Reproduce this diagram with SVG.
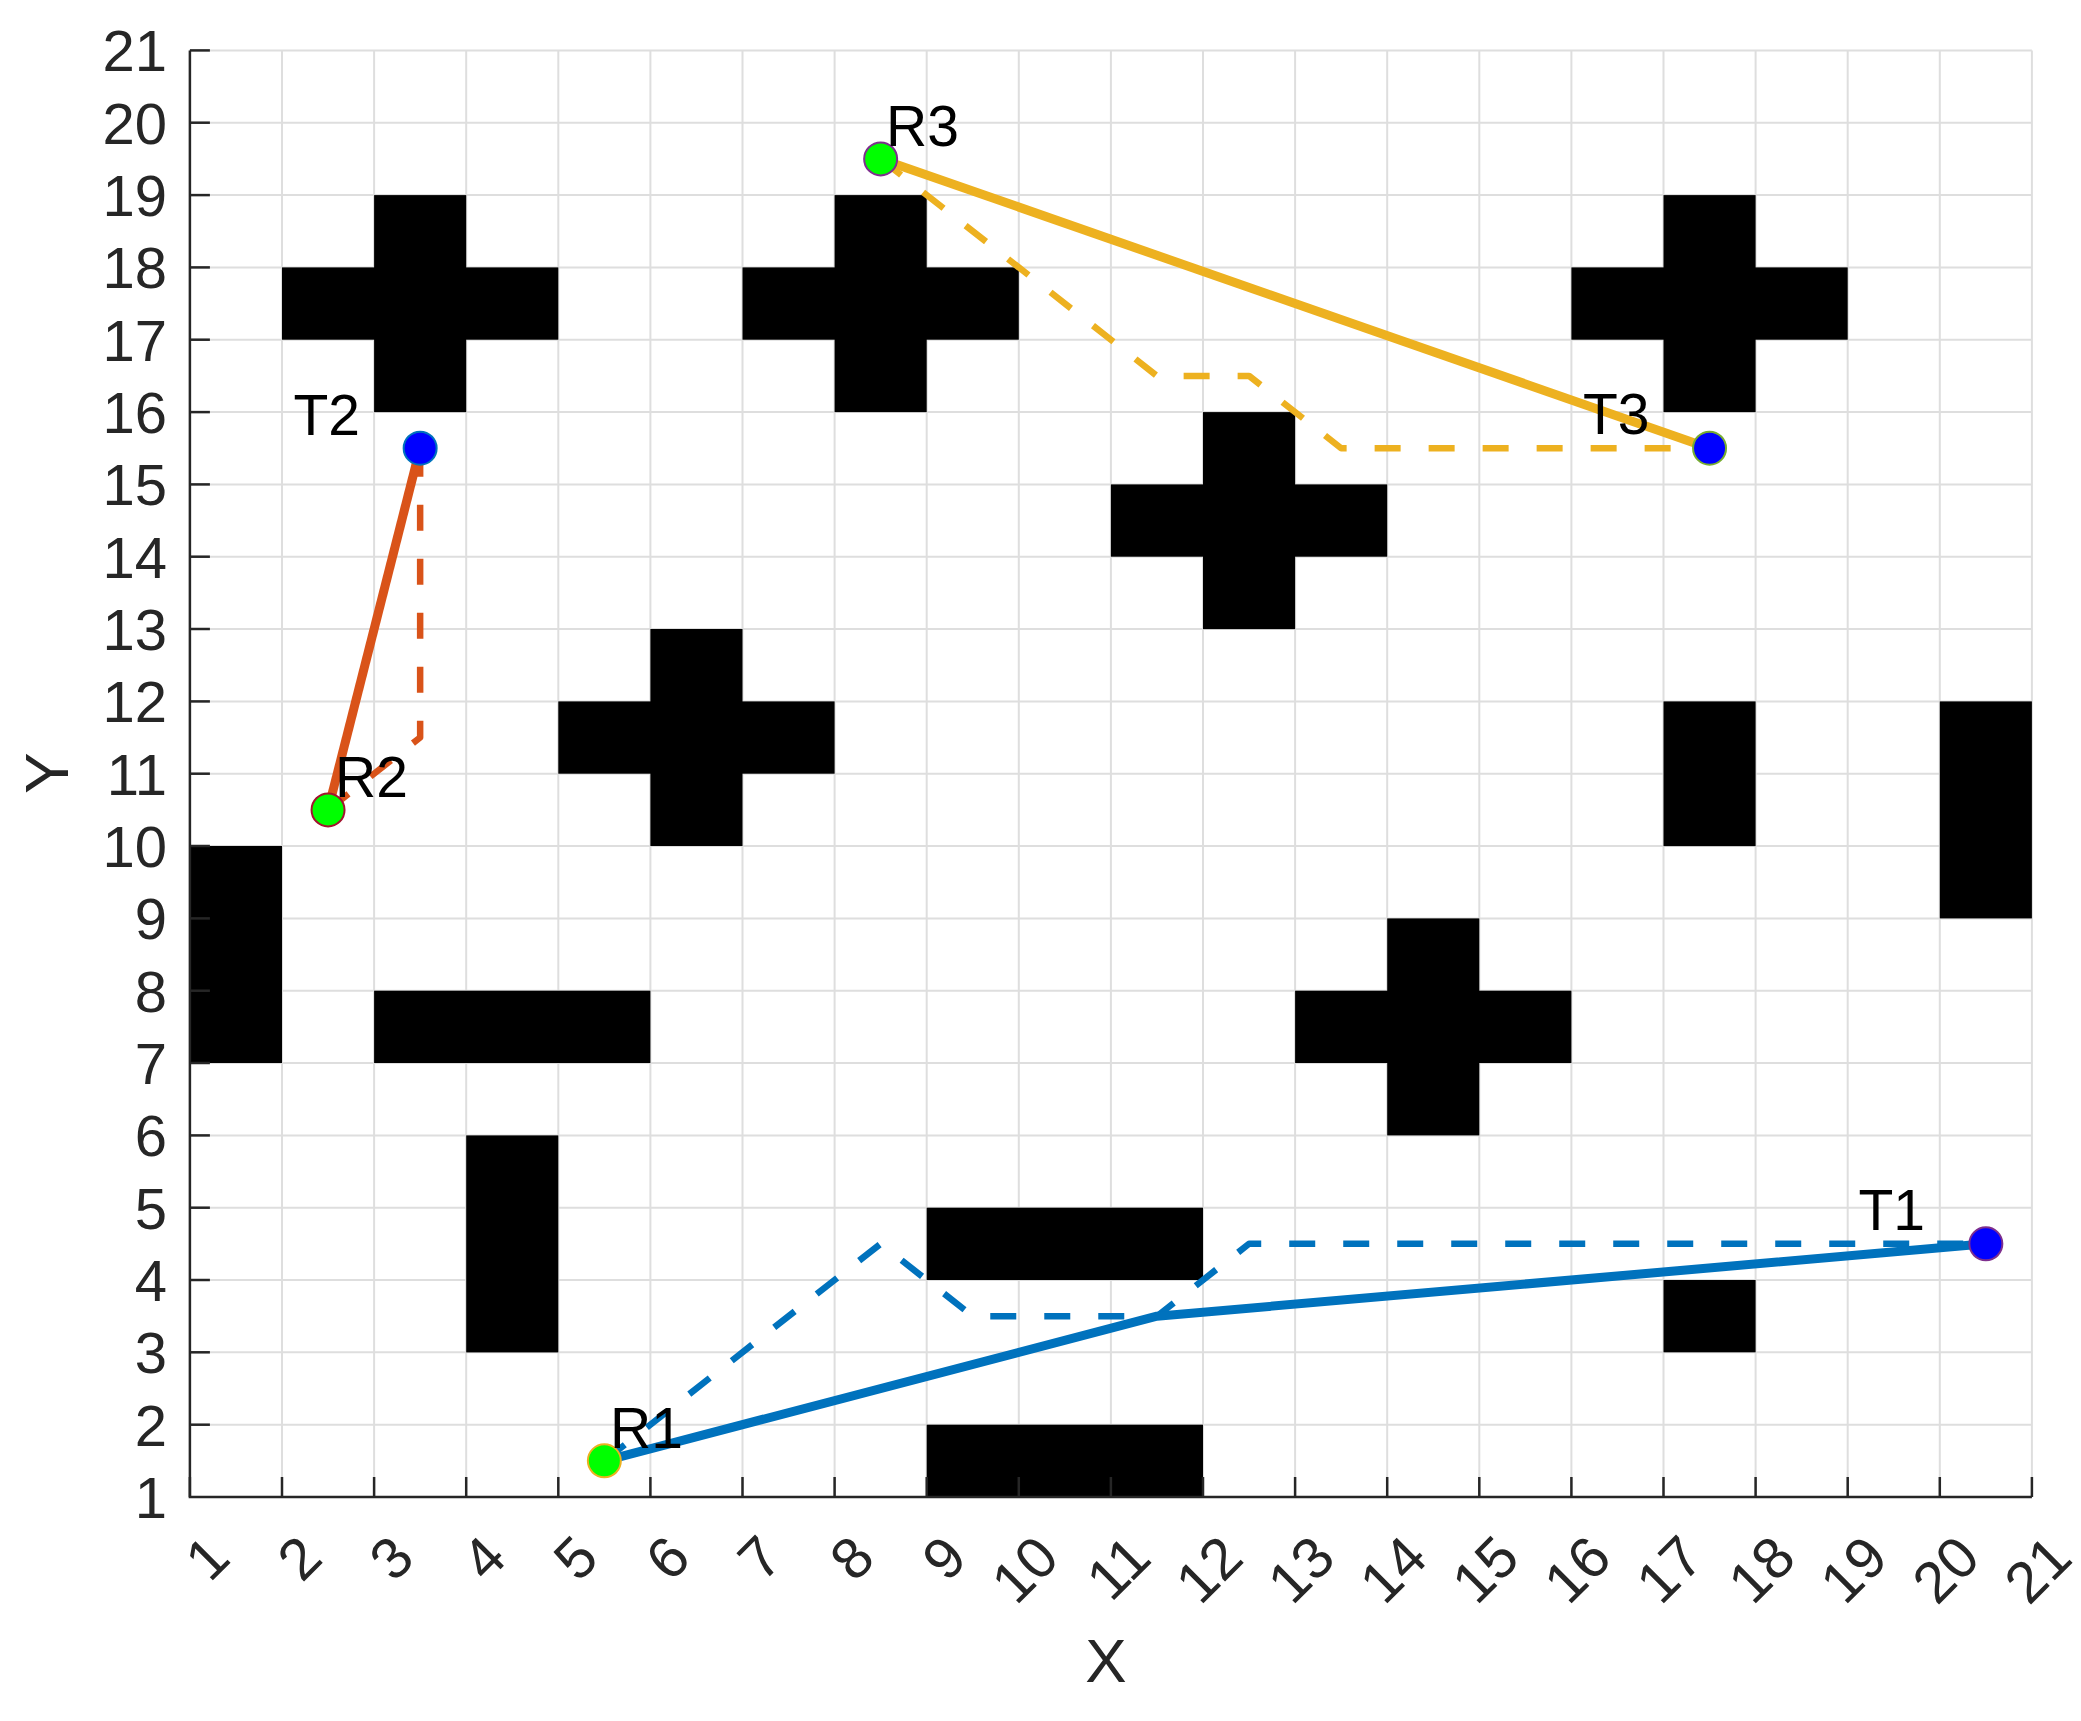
<svg xmlns="http://www.w3.org/2000/svg" width="2081" height="1721" viewBox="0 0 2081 1721">
<style>
.grid line{stroke:#dedede;stroke-width:2}
.obs rect{fill:#000}
.ax{stroke:#262626;stroke-width:2.5;fill:none}
.tk{stroke:#262626;stroke-width:2.5}
.ytl{font-family:"Liberation Sans",Arial,sans-serif;font-size:58px;fill:#262626;text-anchor:end}
.xtl{font-family:"Liberation Sans",Arial,sans-serif;font-size:58px;fill:#262626;text-anchor:end}
.axl{font-family:"Liberation Sans",Arial,sans-serif;font-size:62px;fill:#262626;text-anchor:middle}
.lbl{font-family:"Liberation Sans",Arial,sans-serif;font-size:57px;fill:#000}
.sol{fill:none;stroke-width:9;stroke-linejoin:round;stroke-linecap:butt}
.dsh{fill:none;stroke-width:6.5;stroke-dasharray:26 28;stroke-linejoin:round}
.st{fill:#00ff00;stroke-width:2}
.tg{fill:#0000ff;stroke-width:2}
</style>
<rect width="2081" height="1721" fill="#fff"/>
<g class="grid">
<line x1="189.9" y1="50.4" x2="189.9" y2="1497"/>
<line x1="282.0" y1="50.4" x2="282.0" y2="1497"/>
<line x1="374.1" y1="50.4" x2="374.1" y2="1497"/>
<line x1="466.2" y1="50.4" x2="466.2" y2="1497"/>
<line x1="558.3" y1="50.4" x2="558.3" y2="1497"/>
<line x1="650.4" y1="50.4" x2="650.4" y2="1497"/>
<line x1="742.5" y1="50.4" x2="742.5" y2="1497"/>
<line x1="834.6" y1="50.4" x2="834.6" y2="1497"/>
<line x1="926.7" y1="50.4" x2="926.7" y2="1497"/>
<line x1="1018.8" y1="50.4" x2="1018.8" y2="1497"/>
<line x1="1110.9" y1="50.4" x2="1110.9" y2="1497"/>
<line x1="1203.0" y1="50.4" x2="1203.0" y2="1497"/>
<line x1="1295.1" y1="50.4" x2="1295.1" y2="1497"/>
<line x1="1387.2" y1="50.4" x2="1387.2" y2="1497"/>
<line x1="1479.3" y1="50.4" x2="1479.3" y2="1497"/>
<line x1="1571.4" y1="50.4" x2="1571.4" y2="1497"/>
<line x1="1663.5" y1="50.4" x2="1663.5" y2="1497"/>
<line x1="1755.6" y1="50.4" x2="1755.6" y2="1497"/>
<line x1="1847.7" y1="50.4" x2="1847.7" y2="1497"/>
<line x1="1939.8" y1="50.4" x2="1939.8" y2="1497"/>
<line x1="2031.9" y1="50.4" x2="2031.9" y2="1497"/>
<line x1="189.9" y1="1497" x2="2031.9" y2="1497"/>
<line x1="189.9" y1="1424.7" x2="2031.9" y2="1424.7"/>
<line x1="189.9" y1="1352.3" x2="2031.9" y2="1352.3"/>
<line x1="189.9" y1="1280.0" x2="2031.9" y2="1280.0"/>
<line x1="189.9" y1="1207.7" x2="2031.9" y2="1207.7"/>
<line x1="189.9" y1="1135.4" x2="2031.9" y2="1135.4"/>
<line x1="189.9" y1="1063.0" x2="2031.9" y2="1063.0"/>
<line x1="189.9" y1="990.7" x2="2031.9" y2="990.7"/>
<line x1="189.9" y1="918.4" x2="2031.9" y2="918.4"/>
<line x1="189.9" y1="846.0" x2="2031.9" y2="846.0"/>
<line x1="189.9" y1="773.7" x2="2031.9" y2="773.7"/>
<line x1="189.9" y1="701.4" x2="2031.9" y2="701.4"/>
<line x1="189.9" y1="629.0" x2="2031.9" y2="629.0"/>
<line x1="189.9" y1="556.7" x2="2031.9" y2="556.7"/>
<line x1="189.9" y1="484.4" x2="2031.9" y2="484.4"/>
<line x1="189.9" y1="412.1" x2="2031.9" y2="412.1"/>
<line x1="189.9" y1="339.7" x2="2031.9" y2="339.7"/>
<line x1="189.9" y1="267.4" x2="2031.9" y2="267.4"/>
<line x1="189.9" y1="195.1" x2="2031.9" y2="195.1"/>
<line x1="189.9" y1="122.7" x2="2031.9" y2="122.7"/>
<line x1="189.9" y1="50.4" x2="2031.9" y2="50.4"/>
</g>
<g class="obs" id="obstacles">
<rect x="374.1" y="195.1" width="92.1" height="217"/>
<rect x="282.0" y="267.4" width="276.3" height="72.3"/>
<rect x="834.6" y="195.1" width="92.1" height="217"/>
<rect x="742.5" y="267.4" width="276.3" height="72.3"/>
<rect x="1663.5" y="195.1" width="92.1" height="217"/>
<rect x="1571.4" y="267.4" width="276.3" height="72.3"/>
<rect x="1203.0" y="412.1" width="92.1" height="217"/>
<rect x="1110.9" y="484.4" width="276.3" height="72.3"/>
<rect x="650.4" y="629.0" width="92.1" height="217"/>
<rect x="558.3" y="701.4" width="276.3" height="72.3"/>
<rect x="1387.2" y="918.4" width="92.1" height="217"/>
<rect x="1295.1" y="990.7" width="276.3" height="72.3"/>
<rect x="1663.5" y="701.4" width="92.1" height="144.7"/>
<rect x="1939.8" y="701.4" width="92.1" height="217"/>
<rect x="189.9" y="846.0" width="92.1" height="217"/>
<rect x="374.1" y="990.7" width="276.3" height="72.3"/>
<rect x="466.2" y="1135.4" width="92.1" height="217"/>
<rect x="926.7" y="1207.7" width="276.3" height="72.3"/>
<rect x="926.7" y="1424.7" width="276.3" height="72.3"/>
<rect x="1663.5" y="1280.0" width="92.1" height="72.3"/>
</g>
<g id="axes">
<path class="ax" d="M189.9,50.4 V1497 H2031.9"/>
<g class="tk">
<line x1="189.9" y1="1497" x2="189.9" y2="1477"/>
<line x1="282.0" y1="1497" x2="282.0" y2="1477"/>
<line x1="374.1" y1="1497" x2="374.1" y2="1477"/>
<line x1="466.2" y1="1497" x2="466.2" y2="1477"/>
<line x1="558.3" y1="1497" x2="558.3" y2="1477"/>
<line x1="650.4" y1="1497" x2="650.4" y2="1477"/>
<line x1="742.5" y1="1497" x2="742.5" y2="1477"/>
<line x1="834.6" y1="1497" x2="834.6" y2="1477"/>
<line x1="926.7" y1="1497" x2="926.7" y2="1477"/>
<line x1="1018.8" y1="1497" x2="1018.8" y2="1477"/>
<line x1="1110.9" y1="1497" x2="1110.9" y2="1477"/>
<line x1="1203.0" y1="1497" x2="1203.0" y2="1477"/>
<line x1="1295.1" y1="1497" x2="1295.1" y2="1477"/>
<line x1="1387.2" y1="1497" x2="1387.2" y2="1477"/>
<line x1="1479.3" y1="1497" x2="1479.3" y2="1477"/>
<line x1="1571.4" y1="1497" x2="1571.4" y2="1477"/>
<line x1="1663.5" y1="1497" x2="1663.5" y2="1477"/>
<line x1="1755.6" y1="1497" x2="1755.6" y2="1477"/>
<line x1="1847.7" y1="1497" x2="1847.7" y2="1477"/>
<line x1="1939.8" y1="1497" x2="1939.8" y2="1477"/>
<line x1="2031.9" y1="1497" x2="2031.9" y2="1477"/>
<line x1="189.9" y1="1424.7" x2="209.9" y2="1424.7"/>
<line x1="189.9" y1="1352.3" x2="209.9" y2="1352.3"/>
<line x1="189.9" y1="1280.0" x2="209.9" y2="1280.0"/>
<line x1="189.9" y1="1207.7" x2="209.9" y2="1207.7"/>
<line x1="189.9" y1="1135.4" x2="209.9" y2="1135.4"/>
<line x1="189.9" y1="1063.0" x2="209.9" y2="1063.0"/>
<line x1="189.9" y1="990.7" x2="209.9" y2="990.7"/>
<line x1="189.9" y1="918.4" x2="209.9" y2="918.4"/>
<line x1="189.9" y1="846.0" x2="209.9" y2="846.0"/>
<line x1="189.9" y1="773.7" x2="209.9" y2="773.7"/>
<line x1="189.9" y1="701.4" x2="209.9" y2="701.4"/>
<line x1="189.9" y1="629.0" x2="209.9" y2="629.0"/>
<line x1="189.9" y1="556.7" x2="209.9" y2="556.7"/>
<line x1="189.9" y1="484.4" x2="209.9" y2="484.4"/>
<line x1="189.9" y1="412.1" x2="209.9" y2="412.1"/>
<line x1="189.9" y1="339.7" x2="209.9" y2="339.7"/>
<line x1="189.9" y1="267.4" x2="209.9" y2="267.4"/>
<line x1="189.9" y1="195.1" x2="209.9" y2="195.1"/>
<line x1="189.9" y1="122.7" x2="209.9" y2="122.7"/>
<line x1="189.9" y1="50.4" x2="209.9" y2="50.4"/>
</g>
<g class="ytl">
<text x="167" y="1518">1</text>
<text x="167" y="1445.7">2</text>
<text x="167" y="1373.3">3</text>
<text x="167" y="1301">4</text>
<text x="167" y="1228.7">5</text>
<text x="167" y="1156.4">6</text>
<text x="167" y="1084">7</text>
<text x="167" y="1011.7">8</text>
<text x="167" y="939.4">9</text>
<text x="167" y="867">10</text>
<text x="167" y="794.7">11</text>
<text x="167" y="722.4">12</text>
<text x="167" y="650">13</text>
<text x="167" y="577.7">14</text>
<text x="167" y="505.4">15</text>
<text x="167" y="433.1">16</text>
<text x="167" y="360.7">17</text>
<text x="167" y="288.4">18</text>
<text x="167" y="216.1">19</text>
<text x="167" y="143.7">20</text>
<text x="167" y="71.4">21</text>
</g>
<g class="xtl">
<text transform="translate(217.9,1546) rotate(-45)" dy="0.36em">1</text>
<text transform="translate(310.0,1546) rotate(-45)" dy="0.36em">2</text>
<text transform="translate(402.1,1546) rotate(-45)" dy="0.36em">3</text>
<text transform="translate(494.2,1546) rotate(-45)" dy="0.36em">4</text>
<text transform="translate(586.3,1546) rotate(-45)" dy="0.36em">5</text>
<text transform="translate(678.4,1546) rotate(-45)" dy="0.36em">6</text>
<text transform="translate(770.5,1546) rotate(-45)" dy="0.36em">7</text>
<text transform="translate(862.6,1546) rotate(-45)" dy="0.36em">8</text>
<text transform="translate(954.7,1546) rotate(-45)" dy="0.36em">9</text>
<text transform="translate(1046.8,1546) rotate(-45)" dy="0.36em">10</text>
<text transform="translate(1138.9,1546) rotate(-45)" dy="0.36em">11</text>
<text transform="translate(1231.0,1546) rotate(-45)" dy="0.36em">12</text>
<text transform="translate(1323.1,1546) rotate(-45)" dy="0.36em">13</text>
<text transform="translate(1415.2,1546) rotate(-45)" dy="0.36em">14</text>
<text transform="translate(1507.3,1546) rotate(-45)" dy="0.36em">15</text>
<text transform="translate(1599.4,1546) rotate(-45)" dy="0.36em">16</text>
<text transform="translate(1691.5,1546) rotate(-45)" dy="0.36em">17</text>
<text transform="translate(1783.6,1546) rotate(-45)" dy="0.36em">18</text>
<text transform="translate(1875.7,1546) rotate(-45)" dy="0.36em">19</text>
<text transform="translate(1967.8,1546) rotate(-45)" dy="0.36em">20</text>
<text transform="translate(2059.9,1546) rotate(-45)" dy="0.36em">21</text>
</g>
<text class="axl" x="1106" y="1682">X</text>
<text class="axl" transform="translate(68,773) rotate(-90)">Y</text>
</g>
<g id="connectors">
<polyline class="dsh" stroke="#0072BD" points="604.35,1460.8 880.65,1243.8 972.75,1316.2 1156.95,1316.2 1249.05,1243.8 1985.85,1243.8"/>
<polyline class="sol" stroke="#0072BD" points="604.35,1460.8 1156.95,1316.2 1985.85,1243.8"/>
<polyline class="dsh" stroke="#D95319" points="328.05,809.9 420.15,737.5 420.15,448.2"/>
<polyline class="sol" stroke="#D95319" points="328.05,809.9 420.15,448.2"/>
<polyline class="dsh" stroke="#EDB120" points="880.65,158.9 1156.95,375.9 1249.05,375.9 1341.15,448.2 1709.55,448.2"/>
<polyline class="sol" stroke="#EDB120" points="880.65,158.9 1709.55,448.2"/>
</g>
<g id="R1"><circle class="st" cx="604.35" cy="1460.8" r="16.5" stroke="#EDB120"/><text class="lbl" x="610" y="1448">R1</text></g>
<g id="T1"><circle class="tg" cx="1985.85" cy="1243.8" r="16.5" stroke="#7E2F8E"/><text class="lbl" x="1858.5" y="1230.3">T1</text></g>
<g id="R2"><circle class="st" cx="328.05" cy="809.9" r="16.5" stroke="#A2142F"/><text class="lbl" x="335" y="796.5">R2</text></g>
<g id="T2"><circle class="tg" cx="420.15" cy="448.2" r="16.5" stroke="#0072BD"/><text class="lbl" x="293.5" y="434.7">T2</text></g>
<g id="R3"><circle class="st" cx="880.65" cy="158.9" r="16.5" stroke="#7E2F8E"/><text class="lbl" x="886" y="145.5">R3</text></g>
<g id="T3"><circle class="tg" cx="1709.55" cy="448.2" r="16.5" stroke="#77AC30"/><text class="lbl" x="1583" y="434">T3</text></g>
</svg>
